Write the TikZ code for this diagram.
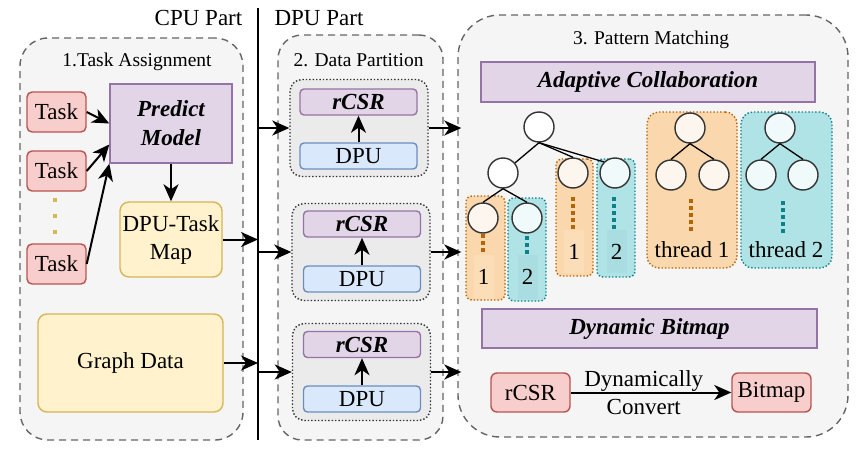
\documentclass[tikz,border=0pt]{standalone}
\usepackage{fontspec}
\setmainfont{Liberation Serif}
\usetikzlibrary{arrows.meta,calc}
\definecolor{pinkf}{HTML}{F8CECC}\definecolor{pinkd}{HTML}{B85450}
\definecolor{purf}{HTML}{E1D5E7}\definecolor{purd}{HTML}{9673A6}
\definecolor{yelf}{HTML}{FFF2CC}\definecolor{yeld}{HTML}{D6B656}
\definecolor{bluf}{HTML}{DAE8FC}\definecolor{blud}{HTML}{6C8EBF}
\definecolor{orf}{HTML}{FAD7AC}\definecolor{ord}{HTML}{B46504}
\definecolor{tef}{HTML}{B0E3E6}\definecolor{ted}{HTML}{0E8088}
\definecolor{grayf}{HTML}{F5F5F5}\definecolor{grayd}{HTML}{666666}
\definecolor{dotf}{HTML}{EBEBEB}
\definecolor{circd}{HTML}{333333}
\definecolor{orl}{HTML}{FDF6EE}\definecolor{tel}{HTML}{F1FAFA}
\definecolor{ors}{HTML}{FBDDB8}\definecolor{tes}{HTML}{A9DDE1}
\begin{document}
\begin{tikzpicture}[x=1pt,y=-1pt,
  txt/.style={font=\fontsize{23}{28}\selectfont, inner sep=0pt},
  ttl/.style={font=\fontsize{19.5}{22}\selectfont, inner sep=0pt},
  bi/.style={font=\fontsize{23}{27}\selectfont\bfseries\itshape, inner sep=0pt},
  area/.style={draw=grayd, fill=grayf, dash pattern=on 7pt off 5pt, line width=1.4pt},
  taskbox/.style={txt, draw=pinkd, fill=pinkf, rounded corners=5pt, line width=1.4pt, minimum width=59pt, minimum height=40pt},
  purbox/.style={draw=purd, fill=purf, line width=1.4pt},
  yelbox/.style={txt, align=center, draw=yeld, fill=yelf, line width=1.4pt, rounded corners=9pt},
  blubox/.style={txt, draw=blud, fill=bluf, line width=1.4pt, rounded corners=4pt, minimum width=117pt, minimum height=26pt},
  rcsrbox/.style={bi, purbox, rounded corners=4pt, minimum width=117pt, minimum height=26pt},
  dotbox/.style={draw=circd, fill=dotf, dotted, line width=1.4pt, rounded corners=12pt, minimum width=138pt, minimum height=97pt},
  orbox/.style={draw=ord, fill=orf, dotted, line width=1.4pt, rounded corners=6pt},
  tebox/.style={draw=ted, fill=tef, dotted, line width=1.4pt, rounded corners=6pt},
  orstrip/.style={txt, fill=ors, minimum width=20pt},
  testrip/.style={txt, fill=tes, minimum width=20pt},
  circ/.style={circle, draw=circd, line width=1.4pt, minimum size=30pt, inner sep=0pt, fill=white},
  edge/.style={line width=1.3pt},
  ordots/.style={draw=ord, line width=3.5pt, dash pattern=on 3.5pt off 3.5pt},
  tedots/.style={draw=ted, line width=3.5pt, dash pattern=on 3.5pt off 3.5pt},
  arr/.style={-{Stealth[length=17pt,width=15pt,inset=5pt]}, line width=2pt},
]
\useasboundingbox[fill=white] (0,0) rectangle (865,450);

% ---------- headings and divider ----------
\node[txt] (cpu) at (198.5,18) {CPU Part};
\node[txt] (dpu) at (319,18) {DPU Part};
\coordinate (vt) at (258,8);
\coordinate (vb) at (258,440);
\draw[line width=1.5pt] (vt) -- (vb);

% ---------- areas ----------
\node[area, rounded corners=28pt, minimum width=223pt, minimum height=402pt] (ta) at (131.5,239) {};
\node[area, rounded corners=24pt, minimum width=165pt, minimum height=405pt] (dp) at (360.5,237.5) {};
\node[area, rounded corners=42pt, minimum width=390pt, minimum height=422pt] (pm) at (653,226) {};
\node[ttl] (tat) at (137,62) {1.Task Assignment};
\node[ttl] (dpt) at (358.5,60) {2. Data Partition};
\node[ttl] (pmt) at (651,40) {3. Pattern Matching};

% ---------- task assignment ----------
\node[taskbox] (t1) at (56.5,112) {Task};
\node[taskbox] (t2) at (56.5,171) {Task};
\node[taskbox] (t3) at (56.5,264) {Task};
\foreach \yy in {200,216,232} \fill[yeld] (53,\yy-2) rectangle (57,\yy+2);
\node[bi, purbox, align=center, minimum width=122pt, minimum height=79pt] (pred) at (171,123.5) {Predict\\[2pt]Model};
\node[yelbox, minimum width=102pt, minimum height=75pt] (map) at (171,239.5) {DPU-Task\\Map};
\node[yelbox, minimum width=185pt, minimum height=98pt] (gd) at (130.5,363) {Graph Data};
\draw[arr] (t1.east) -- (pred.west);
\draw[arr] (t2.east) -- ($(pred.west)+(0,21)$);
\draw[arr] (t3.east) -- (pred.south west);
\draw[arr] (pred.south) -- (map.north);
\draw[arr] (map.east) -- (map.east -| vt);
\draw[arr] (gd.east) -- (gd.east -| vt);

% ---------- data partition ----------
\node[dotbox] (d1) at (359,128) {};
\node[dotbox] (d2) at (361,252) {};
\node[dotbox] (d3) at (361.5,372) {};
\node[rcsrbox] (r1) at (358.5,102) {rCSR};
\node[blubox] (p1) at (358.5,156) {DPU};
\node[rcsrbox] (r2) at (362,224) {rCSR};
\node[blubox] (p2) at (362,279) {DPU};
\node[rcsrbox] (r3) at (362,344.5) {rCSR};
\node[blubox] (p3) at (362,399) {DPU};
\draw[arr] (p1) -- (r1);
\draw[arr] (p2) -- (r2);
\draw[arr] (p3) -- (r3);
\coordinate (l1) at (258,128);
\coordinate (l2) at (258,252);
\coordinate (l3) at (258,372);
\draw[arr] (l1) -- (d1.west);
\draw[arr] (l2) -- (d2.west);
\draw[arr] (l3) -- (d3.west);
\draw[arr] (d1.east) -- ($(d1.east -| pm.west)+(4,0)$);
\draw[arr] (d2.east) -- ($(d2.east -| pm.west)+(4,0)$);
\draw[arr] (d3.east) -- ($(d3.east -| pm.west)+(4,0)$);

% ---------- pattern matching ----------
\node[bi, purbox, minimum width=334pt, minimum height=40pt] (ac) at (648,82) {Adaptive Collaboration};
\node[bi, purbox, minimum width=335pt, minimum height=39pt] (db) at (649.5,328.5) {Dynamic Bitmap};

\node[orbox, minimum width=39pt, minimum height=104pt] (bl1) at (485.5,248) {};
\node[tebox, minimum width=38pt, minimum height=103pt] (bl2) at (527,249.5) {};
\node[orbox, minimum width=37pt, minimum height=117pt] (bm1) at (574.5,217.5) {};
\node[tebox, minimum width=38pt, minimum height=118pt] (bm2) at (616,218) {};
\node[orbox, rounded corners=12pt, minimum width=90pt, minimum height=156pt] (bt1) at (692,190) {};
\node[tebox, rounded corners=12pt, minimum width=91pt, minimum height=156pt] (bt2) at (786.5,190) {};

\node[orstrip, minimum height=44pt] (n1) at (483.5,277) {1};
\node[testrip, minimum height=44pt] (n2) at (527.5,277) {2};
\node[orstrip, minimum height=43pt] (n3) at (574,251.5) {1};
\node[testrip, minimum height=43pt] (n4) at (616.5,251.5) {2};
\node[txt] (th1) at (692,250) {thread 1};
\node[txt] (th2) at (786,250) {thread 2};

\draw[ordots] (483,234) -- (483,255);
\draw[tedots] (527,236) -- (527,256);
\draw[ordots] (573,197) -- (573,230);
\draw[tedots] (614,197) -- (614,230);
\draw[ordots] (691,199) -- (691,233);
\draw[tedots] (783,201) -- (783,235);

\node[circ] (root) at (539,127) {};
\node[circ] (ca) at (503,173) {};
\node[circ, fill=orl] (cm1) at (573,173) {};
\node[circ, fill=tel] (cm2) at (615,173) {};
\node[circ, fill=orl] (ca1) at (483,218) {};
\node[circ, fill=tel] (ca2) at (527,218) {};
\draw[edge] (root.south) -- (ca);
\draw[edge] (root.south) -- (cm1.north);
\draw[edge] (root.south) -- (cm2.north west);
\draw[edge] (ca.south) -- (ca1.north);
\draw[edge] (ca.south) -- (ca2.north);

\node[circ, fill=orl] (u0) at (690,128) {};
\node[circ, fill=orl] (u1) at (671,175) {};
\node[circ, fill=orl] (u2) at (714,175) {};
\node[circ, fill=tel] (v0) at (780,128) {};
\node[circ, fill=tel] (v1) at (761,175) {};
\node[circ, fill=tel] (v2) at (803,175) {};
\draw[edge] (u0.south) -- (u1.north);
\draw[edge] (u0.south) -- (u2.north);
\draw[edge] (v0.south) -- (v1.north);
\draw[edge] (v0.south) -- (v2.north);

\node[txt, draw=pinkd, fill=pinkf, rounded corners=6pt, line width=1.4pt, minimum width=79pt, minimum height=39pt] (rc) at (530.5,392.5) {rCSR};
\node[txt, draw=pinkd, fill=pinkf, rounded corners=6pt, line width=1.4pt, minimum width=79pt, minimum height=39pt] (bm) at (771.5,392.5) {Bitmap};
\draw[arr] (rc.east) -- node[txt, align=center, pos=0.455] {Dynamically\\Convert} (bm.west);
\end{tikzpicture}
\end{document}
